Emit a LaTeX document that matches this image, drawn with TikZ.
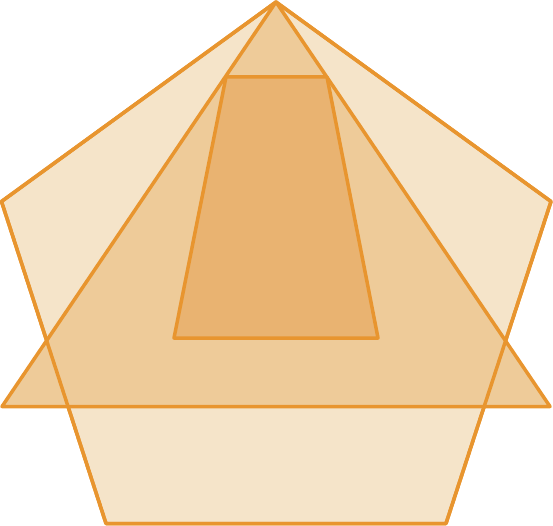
\documentclass[tikz,border=0pt]{standalone}
\begin{document}
\begin{tikzpicture}[x=1pt,y=-1pt,
  shapeline/.style={draw=edgeor,line width=3.5pt,line join=round},
]
\definecolor{edgeor}{HTML}{E8952F}
\definecolor{pentfill}{HTML}{F5E4C9}
\definecolor{trifill}{HTML}{EECB99}
\definecolor{trapfill}{HTML}{E9B371}
\useasboundingbox (0,0) rectangle (553,526);
\coordinate (P1) at (276,2);
\coordinate (P2) at (551,201.5);
\coordinate (P3) at (446,523.5);
\coordinate (P4) at (106,523.5);
\coordinate (P5) at (1.5,201.5);
\coordinate (T2) at (2,406.5);
\coordinate (T3) at (550,406.5);
\coordinate (Q1) at (226,77);
\coordinate (Q2) at (327,77);
\coordinate (Q3) at (378,338);
\coordinate (Q4) at (174,338);
\path[shapeline,fill=pentfill] (P1) -- (P2) -- (P3) -- (P4) -- (P5) -- cycle;
\path[shapeline,fill=trifill] (P1) -- (T3) -- (T2) -- cycle;
\path[shapeline,fill=trapfill] (Q1) -- (Q2) -- (Q3) -- (Q4) -- cycle;
\path[shapeline] (P1) -- (P2) -- (P3) -- (P4) -- (P5) -- cycle;
\end{tikzpicture}
\end{document}
